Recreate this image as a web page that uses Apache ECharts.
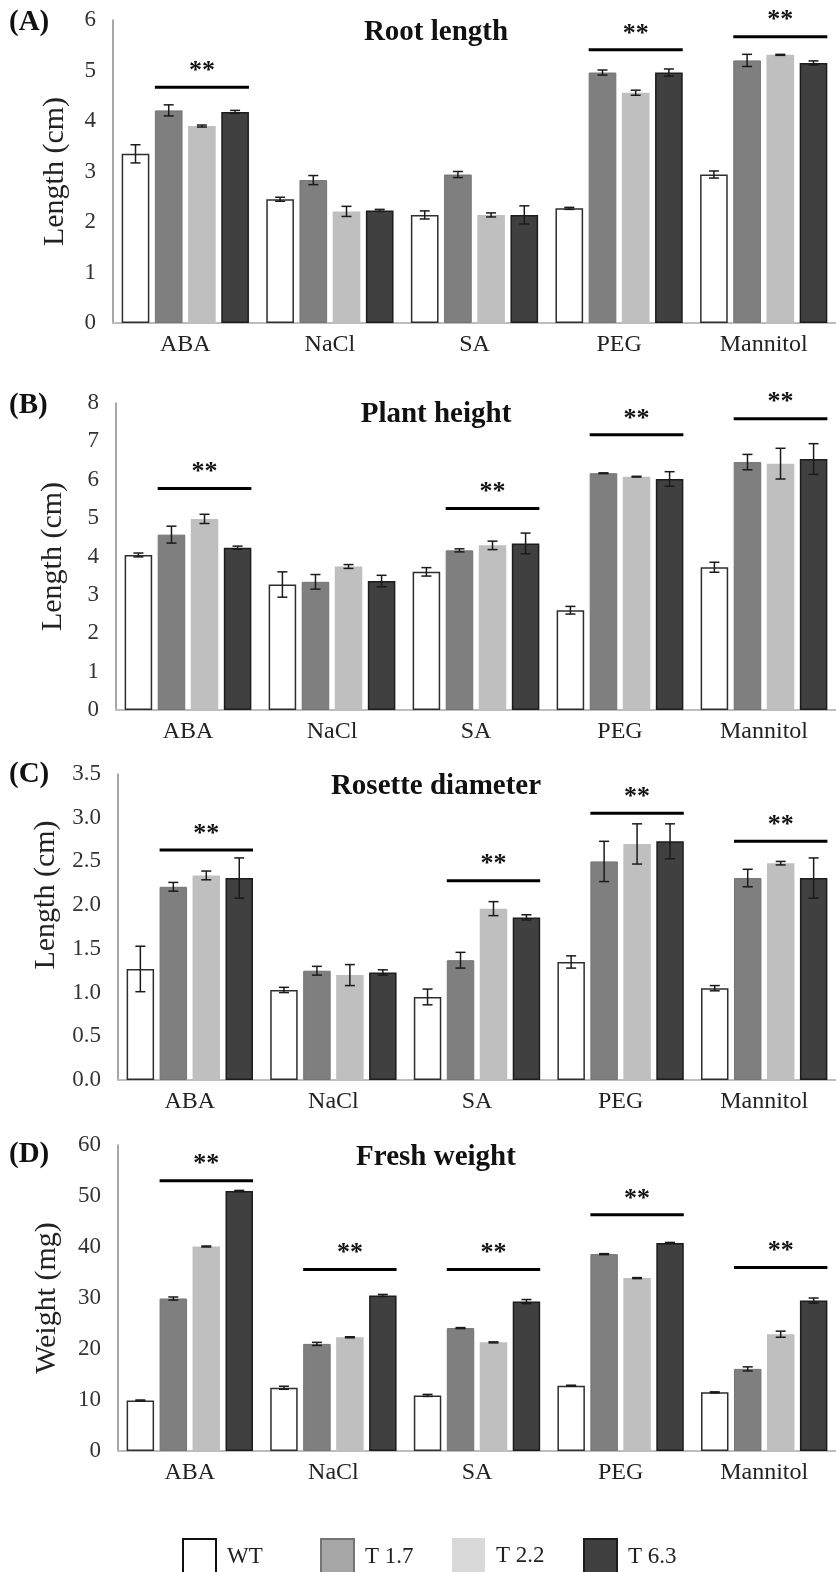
<!DOCTYPE html>
<html>
<head>
<meta charset="utf-8">
<script src="https://cdn.jsdelivr.net/npm/echarts@6/dist/echarts.min.js"></script>
<style>
html,body{margin:0;padding:0;background:#fff;}
#chart{width:836px;height:1572px;}
</style>
</head>
<body>
<div id="chart"></div>
<script>
// ---------- data ----------
const categories = ['ABA', 'NaCl', 'SA', 'PEG', 'Mannitol'];
const seriesNames = ['WT', 'T 1.7', 'T 2.2', 'T 6.3'];

// (A) Root length (cm)
const rootWT = [3.35, 2.45, 2.14, 2.27, 2.94];
const rootWTErr = [0.18, 0.04, 0.08, 0.02, 0.07];
const rootT17 = [4.21, 2.83, 2.94, 4.96, 5.20];
const rootT17Err = [0.11, 0.09, 0.06, 0.05, 0.12];
const rootT22 = [3.90, 2.21, 2.14, 4.56, 5.31];
const rootT22Err = [0.02, 0.10, 0.04, 0.05, 0.01];
const rootT63 = [4.18, 2.23, 2.14, 4.96, 5.15];
const rootT63Err = [0.03, 0.02, 0.18, 0.07, 0.04];
const rootSig = [[0, 4.67], [3, 5.41], [4, 5.67]];
const rootTicks = [0, 1, 2, 3, 4, 5, 6];

// (B) Plant height (cm)
const heightWT = [4.04, 3.27, 3.60, 2.60, 3.72];
const heightWTErr = [0.05, 0.33, 0.11, 0.10, 0.13];
const heightT17 = [4.57, 3.34, 4.16, 6.17, 6.46];
const heightT17Err = [0.22, 0.19, 0.04, 0.01, 0.20];
const heightT22 = [4.98, 3.74, 4.29, 6.08, 6.42];
const heightT22Err = [0.12, 0.05, 0.11, 0.01, 0.40];
const heightT63 = [4.23, 3.36, 4.34, 6.02, 6.54];
const heightT63Err = [0.04, 0.15, 0.27, 0.19, 0.40];
const heightSig = [[0, 5.77], [2, 5.25], [3, 7.17], [4, 7.59]];
const heightTicks = [0, 1, 2, 3, 4, 5, 6, 7, 8];

// (C) Rosette diameter (cm)
const rosetteWT = [1.27, 1.03, 0.95, 1.35, 1.05];
const rosetteWTErr = [0.26, 0.03, 0.09, 0.07, 0.03];
const rosetteT17 = [2.21, 1.25, 1.37, 2.50, 2.31];
const rosetteT17Err = [0.05, 0.05, 0.09, 0.23, 0.10];
const rosetteT22 = [2.34, 1.20, 1.96, 2.70, 2.48];
const rosetteT22Err = [0.05, 0.12, 0.08, 0.23, 0.02];
const rosetteT63 = [2.31, 1.23, 1.86, 2.73, 2.31];
const rosetteT63Err = [0.23, 0.03, 0.03, 0.20, 0.23];
const rosetteSig = [[0, 2.63], [2, 2.28], [3, 3.05], [4, 2.73]];
const rosetteTicks = ['0.0', '0.5', '1.0', '1.5', '2.0', '2.5', '3.0', '3.5'];

// (D) Fresh weight (mg)
const weightWT = [9.9, 12.4, 10.9, 12.8, 11.5];
const weightWTErr = [0.1, 0.3, 0.2, 0.1, 0.1];
const weightT17 = [29.9, 21.0, 24.1, 38.6, 16.1];
const weightT17Err = [0.3, 0.3, 0.1, 0.1, 0.4];
const weightT22 = [40.1, 22.3, 21.3, 33.9, 22.9];
const weightT22Err = [0.1, 0.1, 0.1, 0.1, 0.6];
const weightT63 = [51.0, 30.5, 29.3, 40.8, 29.5];
const weightT63Err = [0.1, 0.2, 0.4, 0.1, 0.5];
const weightSig = [[0, 53.0], [1, 35.6], [2, 35.6], [3, 46.3], [4, 36.0]];
const weightTicks = [0, 10, 20, 30, 40, 50, 60];

// ---------- layout & style ----------
const SERIF = '"Liberation Serif", "Times New Roman", serif';
const CAT_GAP = 0.12, BAR_GAP = 0.2, NBARS = 4;

const panels = [
  { letter: '(A)', title: 'Root length', yName: 'Length (cm)', ticks: rootTicks, interval: 1,
    grid: { left: 113, top: 20, width: 730, height: 303 }, titleY: 33, letterY: 23, nameGap: 43, namePad: [0, 0, 0, 0],
    vals: [rootWT, rootT17, rootT22, rootT63], errs: [rootWTErr, rootT17Err, rootT22Err, rootT63Err], sig: rootSig },
  { letter: '(B)', title: 'Plant height', yName: 'Length (cm)', ticks: heightTicks, interval: 1,
    grid: { left: 116, top: 403, width: 727, height: 307 }, titleY: 415, letterY: 406, nameGap: 48, namePad: [0, 0, 0, 0],
    vals: [heightWT, heightT17, heightT22, heightT63], errs: [heightWTErr, heightT17Err, heightT22Err, heightT63Err], sig: heightSig },
  { letter: '(C)', title: 'Rosette diameter', yName: 'Length (cm)', ticks: rosetteTicks, interval: 0.5,
    grid: { left: 118, top: 774, width: 725, height: 306 }, titleY: 787, letterY: 775, nameGap: 56, namePad: [0, 0, 0, 64],
    vals: [rosetteWT, rosetteT17, rosetteT22, rosetteT63], errs: [rosetteWTErr, rosetteT17Err, rosetteT22Err, rosetteT63Err], sig: rosetteSig },
  { letter: '(D)', title: 'Fresh weight', yName: 'Weight (mg)', ticks: weightTicks, interval: 10,
    grid: { left: 118, top: 1145, width: 725, height: 306 }, titleY: 1158, letterY: 1155, nameGap: 56, namePad: [0, 0, 0, 0],
    vals: [weightWT, weightT17, weightT22, weightT63], errs: [weightWTErr, weightT17Err, weightT22Err, weightT63Err], sig: weightSig }
];

const barStyles = [
  { color: '#ffffff', borderColor: '#2e2e2e', borderWidth: 1.5 },
  { color: '#7f7f7f', borderColor: '#747474', borderWidth: 1 },
  { color: '#bfbfbf', borderColor: '#bdbdbd', borderWidth: 0 },
  { color: '#404040', borderColor: '#1c1c1c', borderWidth: 1.5 }
];
const legendColors = [
  { color: '#ffffff', borderColor: '#111111', borderWidth: 2 },
  { color: '#a6a6a6' },
  { color: '#d9d9d9' },
  { color: '#404040' }
];
const legendLeft = [177, 315, 447, 578];

function barGeom(w) {
  const b = w * (1 - CAT_GAP) / (NBARS + (NBARS - 1) * BAR_GAP);
  return { b: b, g: b * BAR_GAP, start: -w * (1 - CAT_GAP) / 2 };
}

function renderErr(params, api) {
  const c = api.value(0), v = api.value(1), e = api.value(2), s = api.value(3);
  const w = api.size([1, 0])[0];
  const gm = barGeom(w);
  const x = api.coord([c, v])[0] + gm.start + gm.b / 2 + s * (gm.b + gm.g);
  const yt = api.coord([c, v + e])[1];
  const yb = api.coord([c, v - e])[1];
  const cap = 5;
  const st = { stroke: '#1a1a1a', lineWidth: 1.5 };
  return { type: 'group', children: [
    { type: 'line', shape: { x1: x, y1: yt, x2: x, y2: yb }, style: st },
    { type: 'line', shape: { x1: x - cap, y1: yt, x2: x + cap, y2: yt }, style: st },
    { type: 'line', shape: { x1: x - cap, y1: yb, x2: x + cap, y2: yb }, style: st }
  ] };
}

function renderSig(params, api) {
  const c = api.value(0), v = api.value(1);
  const w = api.size([1, 0])[0];
  const gm = barGeom(w);
  const p = api.coord([c, v]);
  const x1 = p[0] + gm.start + gm.b + gm.g;
  const x2 = p[0] - gm.start;
  const y = p[1];
  return { type: 'group', children: [
    { type: 'line', shape: { x1: x1, y1: y, x2: x2, y2: y }, style: { stroke: '#000', lineWidth: 3 } },
    { type: 'text', x: (x1 + x2) / 2, y: y - 3,
      style: { text: '**', fontSize: 26, fontWeight: 'bold', fontFamily: SERIF, fill: '#111',
               align: 'center', verticalAlign: 'bottom', textAlign: 'center', textVerticalAlign: 'bottom' } }
  ] };
}

const grids = [], xAxes = [], yAxes = [], series = [], graphics = [];
panels.forEach(function (p, i) {
  grids.push(p.grid);
  xAxes.push({
    type: 'category', gridIndex: i, data: categories,
    axisTick: { show: false },
    axisLine: { lineStyle: { color: '#bdbdbd', width: 2 } },
    axisLabel: { fontFamily: SERIF, fontSize: 24, color: '#222', margin: 10 }
  });
  const mx = Number(p.ticks[p.ticks.length - 1]);
  yAxes.push({
    type: 'value', gridIndex: i, min: 0, max: mx, interval: p.interval,
    name: p.yName, nameLocation: 'middle', nameGap: p.nameGap,
    nameTextStyle: { fontFamily: SERIF, fontSize: 30, color: '#222', padding: p.namePad },
    axisLine: { show: true, lineStyle: { color: '#8a8a8a', width: 1.5 } },
    axisTick: { show: false },
    splitLine: { show: false },
    axisLabel: { fontFamily: SERIF, fontSize: 23, color: '#333', margin: 17,
      formatter: (function (ticks, interval) {
        return function (val) { return String(ticks[Math.round(val / interval)]); };
      })(p.ticks, p.interval) }
  });
  p.vals.forEach(function (arr, s) {
    series.push({
      type: 'bar', name: seriesNames[s], xAxisIndex: i, yAxisIndex: i, data: arr,
      barCategoryGap: (CAT_GAP * 100) + '%', barGap: (BAR_GAP * 100) + '%',
      itemStyle: barStyles[s], silent: true
    });
  });
  const errData = [];
  p.vals.forEach(function (arr, s) {
    arr.forEach(function (v, c) { errData.push([c, v, p.errs[s][c], s]); });
  });
  series.push({
    type: 'custom', xAxisIndex: i, yAxisIndex: i, renderItem: renderErr, data: errData,
    encode: { x: 0, y: 1 }, z: 10, silent: true
  });
  series.push({
    type: 'custom', xAxisIndex: i, yAxisIndex: i, renderItem: renderSig, data: p.sig,
    encode: { x: 0, y: 1 }, z: 11, silent: true
  });
  graphics.push({
    type: 'text', x: 436, y: p.titleY,
    style: { text: p.title, fontSize: 29, fontWeight: 'bold', fontFamily: SERIF, fill: '#111',
             align: 'center', verticalAlign: 'middle', textAlign: 'center', textVerticalAlign: 'middle' }
  });
  graphics.push({
    type: 'text', x: 9, y: p.letterY,
    style: { text: p.letter, fontSize: 29, fontWeight: 'bold', fontFamily: SERIF, fill: '#111',
             align: 'left', verticalAlign: 'middle', textAlign: 'left', textVerticalAlign: 'middle' }
  });
});

const legends = seriesNames.map(function (n, s) {
  return {
    left: legendLeft[s], top: 1533, orient: 'horizontal',
    itemWidth: 33, itemHeight: 36, icon: 'rect', selectedMode: false,
    data: [{ name: n, itemStyle: legendColors[s] }],
    textStyle: { fontFamily: SERIF, fontSize: 23, color: '#222', padding: [0, 0, 0, 6] }
  };
});

const chart = echarts.init(document.getElementById('chart'));
chart.setOption({
  backgroundColor: '#ffffff',
  animation: false,
  grid: grids,
  xAxis: xAxes,
  yAxis: yAxes,
  legend: legends,
  graphic: graphics,
  series: series
});
</script>
</body>
</html>
